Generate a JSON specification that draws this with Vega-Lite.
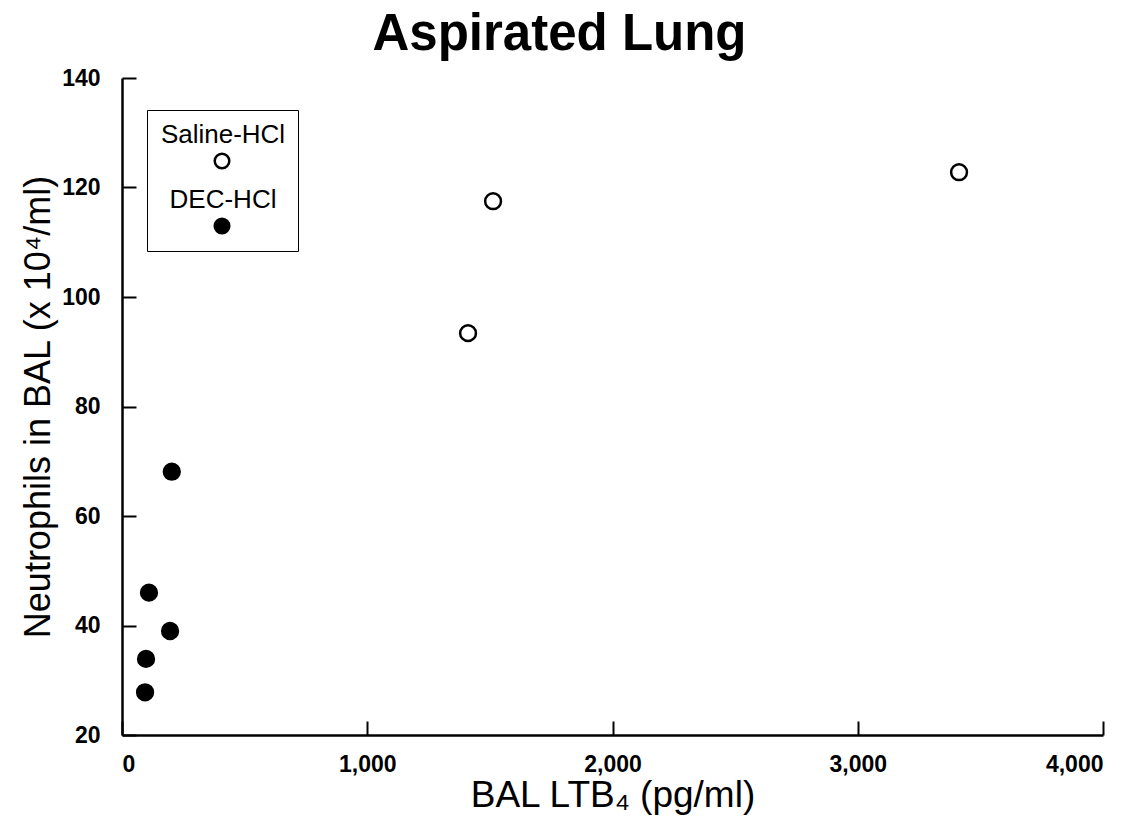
{
  "$schema": "https://vega.github.io/schema/vega-lite/v6.json",
  "width": 981,
  "height": 657,
  "autosize": {"type": "none"},
  "padding": {"left": 122, "top": 78, "right": 37, "bottom": 103},
  "background": "white",
  "title": {
    "text": "Aspirated Lung",
    "font": "Liberation Sans",
    "fontSize": 51,
    "fontWeight": "bold",
    "color": "black",
    "anchor": "middle",
    "frame": "group",
    "dx": -53,
    "offset": 6
  },
  "data": {
    "values": [
      {"group": "Saline-HCl", "ltb4": 1411, "neutrophils": 93.4},
      {"group": "Saline-HCl", "ltb4": 1513, "neutrophils": 117.5},
      {"group": "Saline-HCl", "ltb4": 3413, "neutrophils": 122.8},
      {"group": "DEC-HCl", "ltb4": 203, "neutrophils": 68.1},
      {"group": "DEC-HCl", "ltb4": 110, "neutrophils": 46.0},
      {"group": "DEC-HCl", "ltb4": 196, "neutrophils": 39.0},
      {"group": "DEC-HCl", "ltb4": 98, "neutrophils": 33.9},
      {"group": "DEC-HCl", "ltb4": 94, "neutrophils": 27.8}
    ]
  },
  "mark": {
    "type": "point",
    "shape": "circle",
    "filled": true,
    "size": 250,
    "stroke": "black",
    "strokeWidth": 2.5,
    "opacity": 1
  },
  "encoding": {
    "x": {
      "field": "ltb4",
      "type": "quantitative",
      "scale": {"domain": [0, 4000], "nice": false, "zero": false},
      "axis": {
        "title": "BAL LTB₄ (pg/ml)",
        "values": [0, 1000, 2000, 3000, 4000],
        "format": ",d",
        "labelPadding": 32,
        "titlePadding": 1,
        "titleFontSize": 37
      }
    },
    "y": {
      "field": "neutrophils",
      "type": "quantitative",
      "scale": {"domain": [20, 140], "nice": false, "zero": false},
      "axis": {
        "title": "Neutrophils in BAL (x 10⁴/ml)",
        "values": [20, 40, 60, 80, 100, 120, 140],
        "labelPadding": 36,
        "titlePadding": 4,
        "titleFontSize": 36
      }
    },
    "fill": {
      "field": "group",
      "type": "nominal",
      "scale": {"domain": ["Saline-HCl", "DEC-HCl"], "range": ["white", "black"]},
      "legend": {
        "title": null,
        "orient": "none",
        "legendX": 25,
        "legendY": 32,
        "strokeColor": "black",
        "padding": 12,
        "symbolType": "M -1.03,3.68 A 1.03,1.03 0 1,0 1.03,3.68 A 1.03,1.03 0 1,0 -1.03,3.68 Z",
        "symbolSize": 200,
        "symbolStrokeColor": "black",
        "symbolStrokeWidth": 2.5,
        "symbolOffset": 50,
        "labelOffset": -12,
        "labelAlign": "center",
        "labelBaseline": "middle",
        "labelFont": "Liberation Sans",
        "labelFontSize": 26,
        "labelColor": "black",
        "rowPadding": 13
      }
    }
  },
  "config": {
    "view": {"stroke": null},
    "axis": {
      "grid": false,
      "domainColor": "black",
      "domainWidth": 2.5,
      "tickColor": "black",
      "tickWidth": 2,
      "tickSize": -14,
      "labelFont": "Liberation Sans",
      "labelFontSize": 23,
      "labelFontWeight": "bold",
      "labelColor": "black",
      "titleFont": "Liberation Sans",
      "titleFontWeight": "normal",
      "titleColor": "black"
    }
  }
}
